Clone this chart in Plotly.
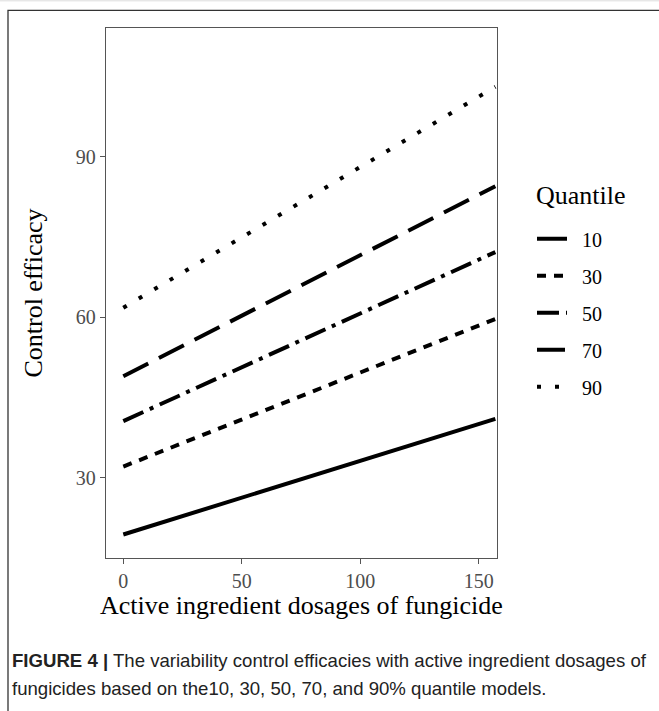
import plotly.graph_objects as go

# Data
dose = [0, 157]
quantiles = ["10", "30", "50", "70", "90"]
efficacy_10 = [19.4, 41.0]
efficacy_30 = [32.1, 59.7]
efficacy_50 = [40.6, 72.2]
efficacy_70 = [49.0, 84.5]
efficacy_90 = [61.8, 103.1]
series = [efficacy_10, efficacy_30, efficacy_50, efficacy_70, efficacy_90]
dashes = ["solid", "9px,8px", "22px,7px,4px,7px", "28px,12px", "4px,14px"]

x_ticks = [0, 50, 100, 150]
y_ticks = [30, 60, 90]

SERIF = "Liberation Serif, Times New Roman, serif"

# plot-area geometry in pixels
L, R, T, B = 106, 497, 27.7, 558
PW, PH = R - L, B - T


def px_x(x):
    return (x - L) / PW


def px_y(y):
    return 1 - (y - T) / PH


fig = go.Figure()
for q, vals, d in zip(quantiles, series, dashes):
    fig.add_trace(go.Scatter(
        x=dose, y=vals, mode="lines", name="\u00a0\u00a0" + q, legendgroup=q,
        line=dict(color="black", width=4, dash=d),
    ))

axis_common = dict(
    showline=True, mirror=True, linecolor="#555555", linewidth=1.3,
    ticks="outside", ticklen=5, tickwidth=1.2, tickcolor="#555555",
    showgrid=False, zeroline=False,
    tickfont=dict(family=SERIF, size=20, color="#4d4d4d"),
)

fig.update_layout(
    width=659, height=711,
    margin=dict(l=L, r=659 - R, t=T, b=711 - B),
    plot_bgcolor="white", paper_bgcolor="white",
    xaxis=dict(range=[-7.3, 157.7], tickvals=x_ticks, **axis_common),
    yaxis=dict(range=[15.0, 114.1], tickvals=y_ticks,
               title=dict(text="Control efficacy",
                          font=dict(family=SERIF, size=26, color="black"), standoff=25),
               **axis_common),
    legend=dict(
        font=dict(family=SERIF, size=20, color="black"),
        x=px_x(532), y=px_y(219), xanchor="left", yanchor="top",
        tracegroupgap=8, itemwidth=30, bgcolor="rgba(0,0,0,0)",
    ),
    showlegend=True,
)

fig.add_annotation(text="Active ingredient dosages of fungicide", xref="paper", yref="paper",
                   x=0.5, y=px_y(606), xanchor="center", yanchor="middle",
                   showarrow=False, font=dict(family=SERIF, size=26, color="black"))

fig.add_annotation(text="Quantile", xref="paper", yref="paper",
                   x=px_x(534), y=px_y(195), xanchor="left", yanchor="middle",
                   showarrow=False, font=dict(family=SERIF, size=26, color="black"))

# outer figure frame and faint top rule
fig.add_shape(type="rect", xref="paper", yref="paper",
              x0=px_x(8), x1=px_x(700), y0=px_y(760), y1=px_y(10),
              line=dict(color="#333333", width=1.3), layer="below")
fig.add_shape(type="line", xref="paper", yref="paper",
              x0=px_x(0), x1=px_x(659), y0=px_y(0.5), y1=px_y(0.5),
              line=dict(color="#dddddd", width=1))

caption1 = "<b>FIGURE 4 |</b> The variability control efficacies with active ingredient dosages of"
caption2 = "fungicides based on the10, 30, 50, 70, and 90% quantile models."
for txt, ypx in [(caption1, 661), (caption2, 689)]:
    fig.add_annotation(
        text=txt, xref="paper", yref="paper",
        x=px_x(10), y=px_y(ypx),
        xanchor="left", yanchor="middle", showarrow=False,
        font=dict(family="Liberation Sans Narrow, Arial Narrow, Liberation Sans, sans-serif",
                  size=18.6, color="#222222"),
    )

fig.write_html("out.html")
